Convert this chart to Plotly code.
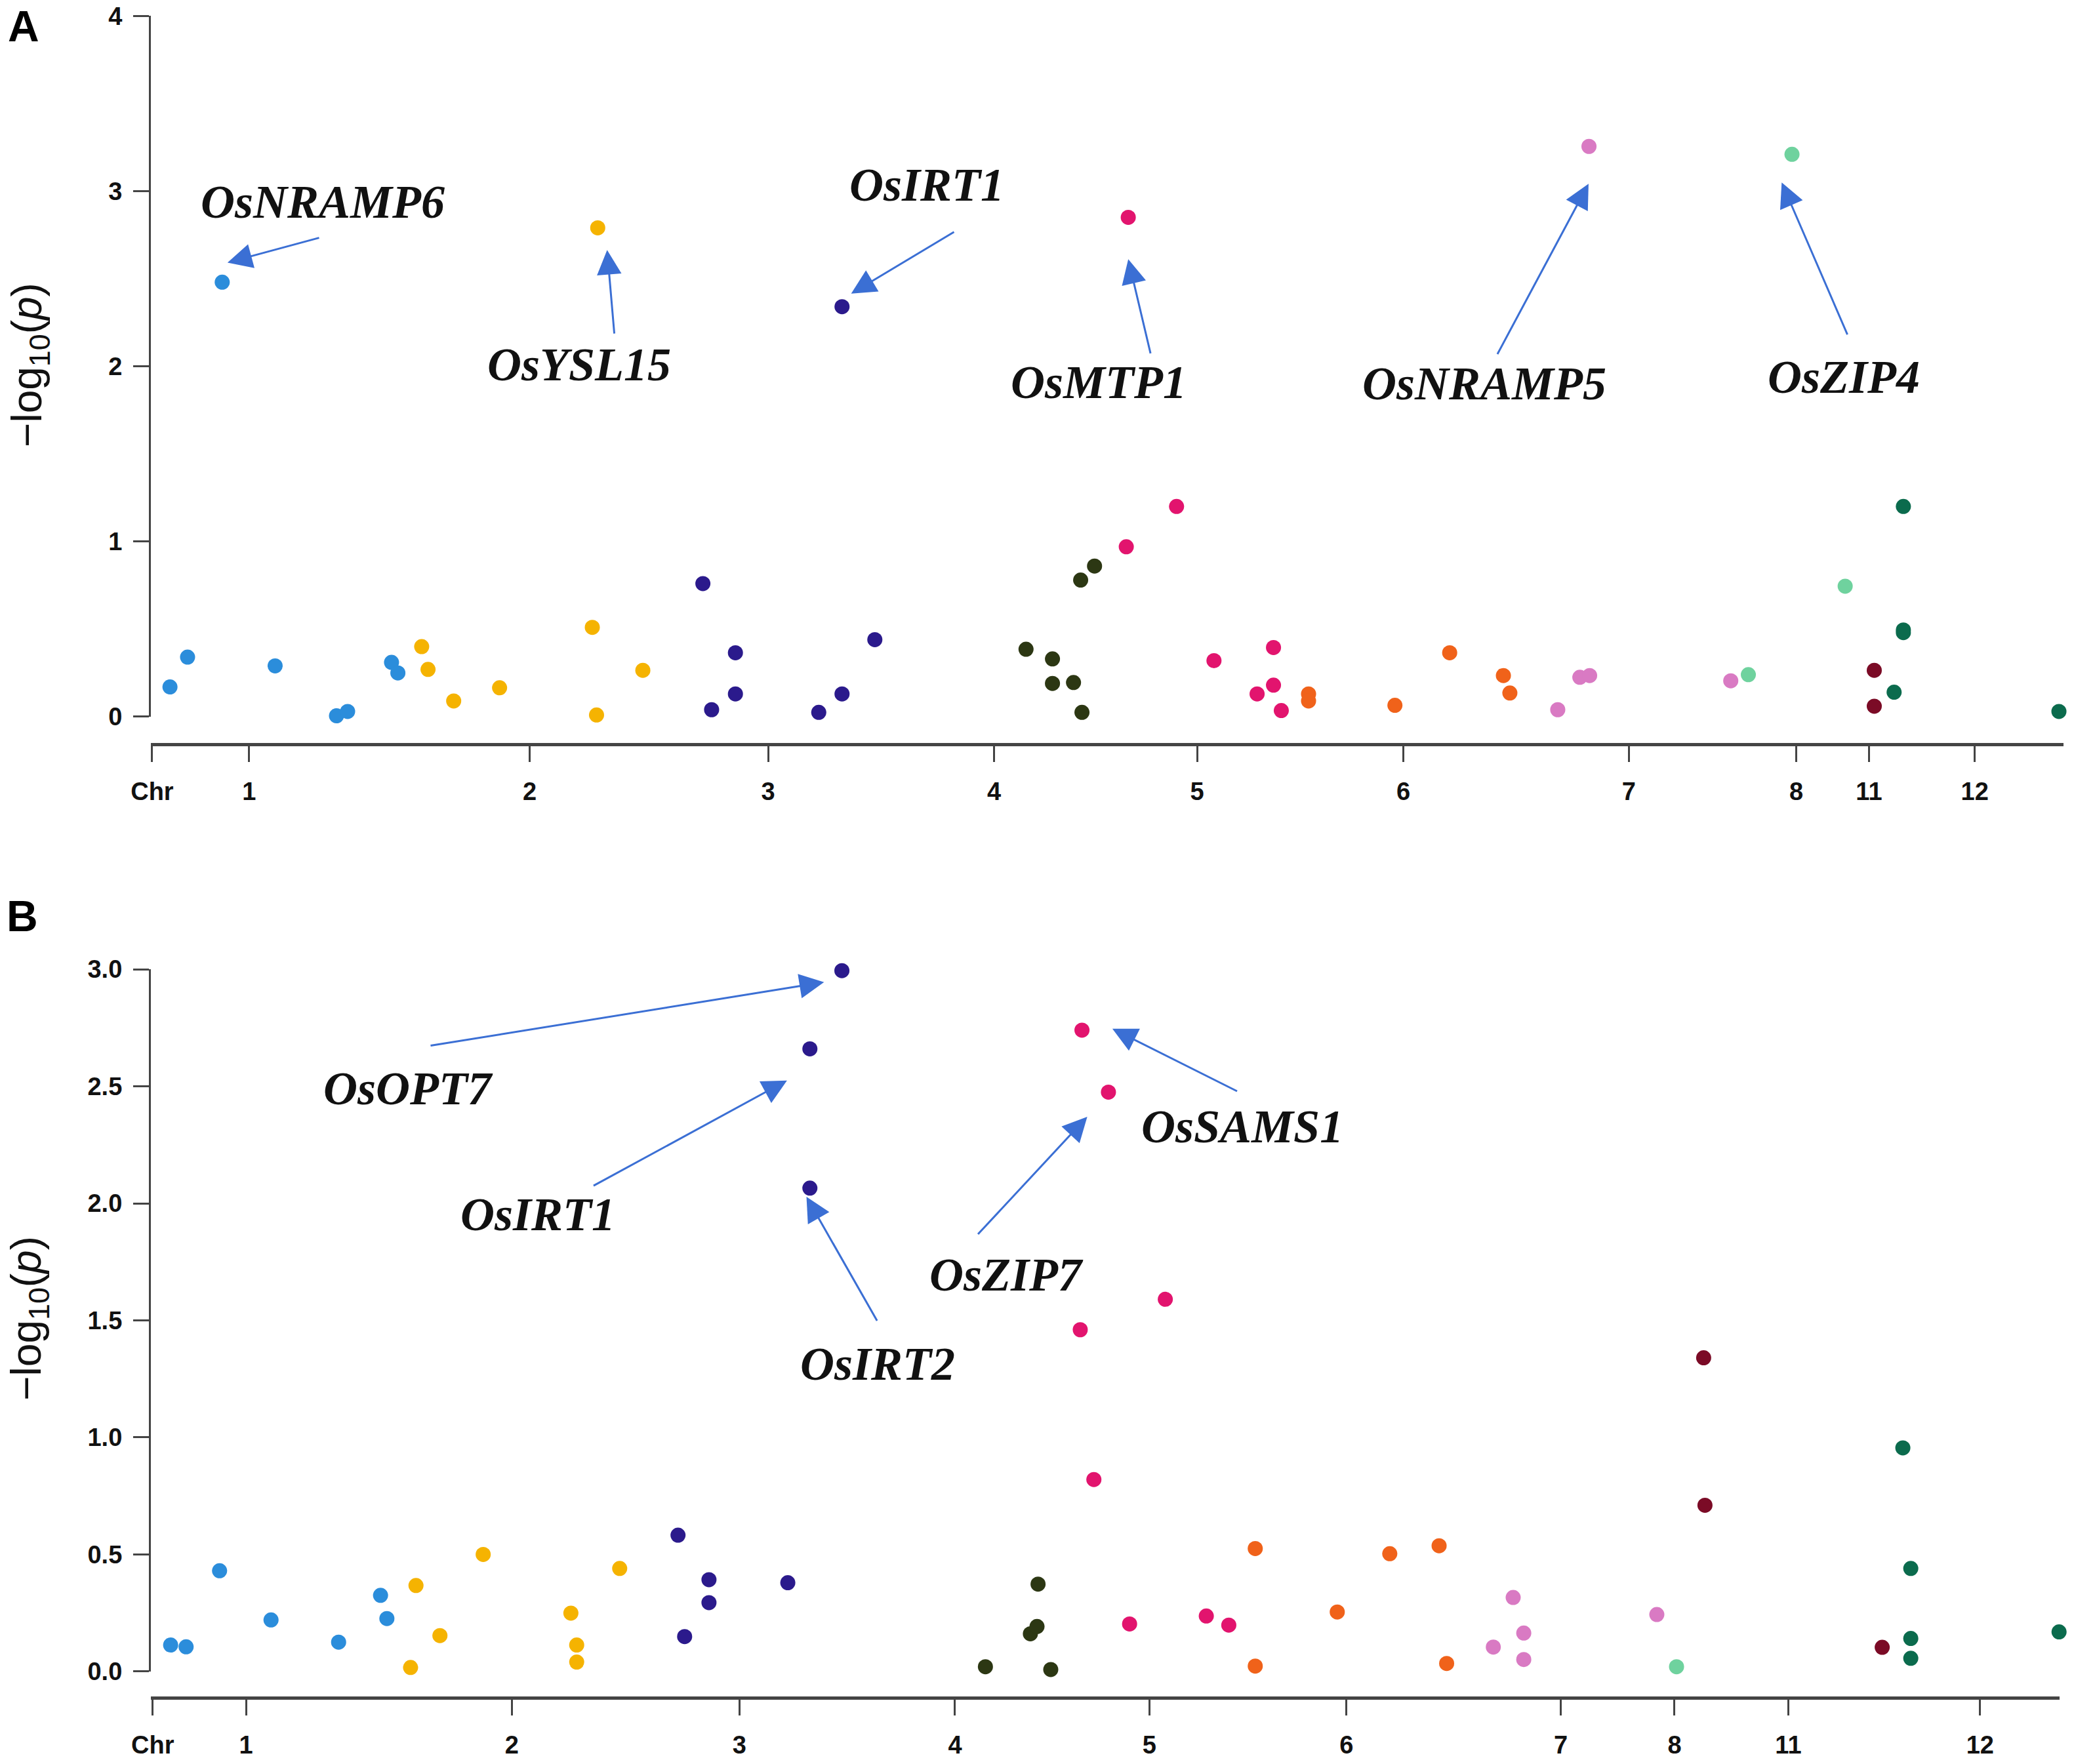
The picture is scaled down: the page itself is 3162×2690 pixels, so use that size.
import plotly.graph_objects as go

# the page has an 8 px body margin, so the figure is a little smaller than the window
PAGE_W, PAGE_H, BODY = 3162, 2690, 8
W, H = PAGE_W - 2 * BODY, PAGE_H - 2 * BODY
REF_W, REF_H = 1568, 1334   # layout measured on a 1568 x 1334 copy of the reference

TICK_TEXT = ["Chr", "1", "2", "3", "4", "5", "6", "7", "8", "11", "12"]
COLORS = {
    "1": "#2b8ddb", "2": "#f5b301", "3": "#2b1a8c", "4": "#2c3713",
    "5": "#e2146e", "6": "#f0621a", "7": "#d97ac3", "8": "#6fd29e",
    "11": "#7b0b26", "12": "#0b6b4d",
}

# ---- panel A : chromosome, position along genome, -log10(p)
a_chr = (["1"] * 8 + ["2"] * 8 + ["3"] * 8 + ["4"] * 7 + ["5"] * 8
         + ["6"] * 6 + ["7"] * 5 + ["8"] * 3 + ["11"] * 2 + ["12"] * 5)
a_pos = [128.5, 141.8, 168, 208, 254.4, 262.8, 296, 300.8,
         318.8, 323.6, 343, 377.7, 447.8, 451.9, 451, 486,
         531.4, 538, 556, 556, 619, 636.6, 636.6, 661.4,
         775.7, 795.7, 795.7, 811.6, 818, 817, 827.5,
         853, 851.5, 889.5, 917.8, 950.4, 962.8, 962.8, 968.7,
         989.3, 989.3, 1054.6, 1096, 1136.6, 1141.5,
         1177.7, 1194.4, 1201.8, 1201.3, 1308.5,
         1321.8, 1354.8, 1395,
         1417, 1417,
         1432, 1439, 1439, 1439, 1556.6]
a_logp = [0.17, 0.34, 2.48, 0.29, 0.005, 0.03, 0.31, 0.25,
          0.40, 0.27, 0.09, 0.165, 0.51, 2.79, 0.01, 0.265,
          0.76, 0.04, 0.365, 0.13, 0.025, 2.34, 0.13, 0.44,
          0.385, 0.33, 0.19, 0.195, 0.025, 0.78, 0.86,
          2.85, 0.97, 1.20, 0.32, 0.13, 0.395, 0.18, 0.035,
          0.13, 0.09, 0.065, 0.365, 0.235, 0.135,
          0.04, 0.225, 0.235, 3.255, 0.205,
          0.24, 3.21, 0.745,
          0.265, 0.06,
          0.14, 1.20, 0.495, 0.48, 0.03]
a_ticks = [115, 188.4, 400.5, 580.7, 751.6, 905, 1061, 1231.5, 1358, 1413, 1493]

# ---- panel B
b_chr = (["1"] * 7 + ["2"] * 8 + ["3"] * 8 + ["4"] * 5 + ["5"] * 8
         + ["6"] * 6 + ["7"] * 5 + ["8"] * 1 + ["11"] * 3 + ["12"] * 5)
b_pos = [129, 140.7, 166, 204.9, 256, 287.7, 292.5,
         310.4, 314.5, 332.6, 365.3, 431.6, 436, 436, 468.5,
         512.6, 517.6, 536, 536, 595.6, 612.3, 612.3, 636.5,
         745, 779, 784, 784.8, 794.4,
         818, 838, 816.7, 827, 854, 881, 912, 929,
         949, 949, 1011, 1050.7, 1088, 1093.7,
         1129, 1144, 1152, 1152, 1252.6,
         1267.5,
         1288, 1289, 1423,
         1438.6, 1444.6, 1444.6, 1444.6, 1556.7]
b_logp = [0.113, 0.105, 0.43, 0.22, 0.125, 0.325, 0.226,
          0.017, 0.367, 0.153, 0.50, 0.249, 0.113, 0.04, 0.44,
          0.582, 0.149, 0.392, 0.294, 0.379, 2.66, 2.065, 2.994,
          0.02, 0.161, 0.192, 0.373, 0.008,
          2.74, 2.475, 1.46, 0.82, 0.203, 1.59, 0.237, 0.198,
          0.525, 0.023, 0.254, 0.503, 0.537, 0.034,
          0.104, 0.316, 0.164, 0.051, 0.243,
          0.02,
          1.34, 0.71, 0.103,
          0.955, 0.44, 0.141, 0.056, 0.169]
b_ticks = [115.4, 186, 387, 559, 722, 869, 1018, 1180, 1266, 1352, 1497]

# gene labels: name, label x, label y, arrow tail x, tail y, head x, head y
a_genes = [
    ("OsNRAMP6", 244, 2.936, 242, 2.735, 172, 2.592),
    ("OsYSL15", 438, 2.011, 464.5, 2.181, 459, 2.664),
    ("OsIRT1", 700.7, 3.035, 722, 2.770, 643.5, 2.415),
    ("OsMTP1", 830.5, 1.909, 870, 2.068, 853, 2.611),
    ("OsNRAMP5", 1122, 1.902, 1131.7, 2.064, 1201, 3.042),
    ("OsZIP4", 1393.7, 1.940, 1397, 2.176, 1347, 3.049),
]
b_genes = [
    ("OsOPT7", 308.5, 2.489, 324.8, 2.673, 623, 2.945),
    ("OsIRT1", 406.7, 1.951, 448, 2.073, 595, 2.525),
    ("OsIRT2", 663.5, 1.314, 663.5, 1.494, 609.7, 2.028),
    ("OsZIP7", 761, 1.695, 738.7, 1.864, 822, 2.370),
    ("OsSAMS1", 939, 2.328, 936, 2.477, 841, 2.746),
]


def px(xd):
    return (xd * PAGE_W / REF_W - BODY) / W


def py(yd):
    return 1 - (yd * PAGE_H / REF_H - BODY) / H


AXIS_COL = "#444444"
TICK_FONT = dict(family="Liberation Sans", size=38, color="#111111", weight="bold")
GENE_FONT = dict(family="Liberation Serif", size=72, color="#111111")
ARROW_COL = "#3b6fd4"

fig = go.Figure()

panels = [
    ("x", "y", a_chr, a_pos, a_logp, a_genes),
    ("x2", "y2", b_chr, b_pos, b_logp, b_genes),
]
for xa, ya, chrs, pos, logp, genes in panels:
    for c in COLORS:
        xs = [p for p, k in zip(pos, chrs) if k == c]
        ys = [v for v, k in zip(logp, chrs) if k == c]
        fig.add_trace(go.Scatter(
            x=xs, y=ys, mode="markers", xaxis=xa, yaxis=ya, cliponaxis=False,
            marker=dict(size=23, color=COLORS[c], line=dict(width=0)),
            name="Chr " + c, showlegend=False))
    for name, tx, ty, ax, ay, hx, hy in genes:
        fig.add_annotation(x=hx, y=hy, ax=ax, ay=ay, xref=xa, yref=ya, axref=xa, ayref=ya,
                           text="", showarrow=True, arrowhead=2, arrowsize=2.5,
                           arrowwidth=3, arrowcolor=ARROW_COL)
        fig.add_annotation(x=tx, y=ty, xref=xa, yref=ya, text="<b><i>%s</i></b>" % name,
                           showarrow=False, font=GENE_FONT, xanchor="center", yanchor="middle")

common_x = dict(anchor="free", automargin=False, showline=True, linewidth=5, linecolor=AXIS_COL,
                ticks="outside", ticklen=24, tickwidth=3, tickcolor=AXIS_COL,
                tickmode="array", ticktext=TICK_TEXT, tickfont=TICK_FONT,
                ticklabelstandoff=12, ticklabeloverflow="allow",
                showgrid=False, zeroline=False)
common_y = dict(automargin=False, showline=True, linewidth=3, linecolor=AXIS_COL,
                ticks="outside", ticklen=24, tickwidth=3, tickcolor=AXIS_COL,
                tickfont=TICK_FONT, ticklabelstandoff=9, ticklabeloverflow="allow",
                showgrid=False, zeroline=False)

fig.update_layout(
    width=W, height=H, margin=dict(l=0, r=0, t=0, b=0, autoexpand=False),
    plot_bgcolor="white", paper_bgcolor="white", showlegend=False,
    xaxis=dict(common_x, domain=[px(114), px(1560)], range=[114, 1560],
               position=py(563), tickvals=a_ticks),
    yaxis=dict(common_y, anchor="x", domain=[py(542), py(12)], range=[0, 4],
               tickvals=[0, 1, 2, 3, 4]),
    xaxis2=dict(common_x, domain=[px(114), px(1557)], range=[114, 1557],
                position=py(1284), tickvals=b_ticks),
    yaxis2=dict(common_y, anchor="x2", domain=[py(1264), py(733)], range=[0, 3],
                tickvals=[0, 0.5, 1, 1.5, 2, 2.5, 3], tickformat=".1f"),
)

ylab = "\u2212log<sub>10</sub>(<i>p</i>)"
for yc in (276, 997):
    fig.add_annotation(x=px(22), y=py(yc), xref="paper", yref="paper", text=ylab,
                       textangle=-90, showarrow=False, xanchor="center", yanchor="middle",
                       font=dict(family="Liberation Sans", size=64, color="#111111"))
for letter, xc, yc in (("A", 18, 20), ("B", 17, 693)):
    fig.add_annotation(x=px(xc), y=py(yc), xref="paper", yref="paper", text="<b>%s</b>" % letter,
                       showarrow=False, xanchor="center", yanchor="middle",
                       font=dict(family="Liberation Sans", size=66, color="#000000"))

fig.write_html("out.html")
